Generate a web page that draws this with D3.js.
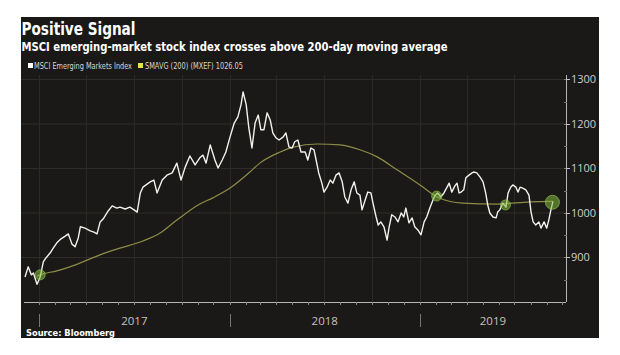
<!DOCTYPE html>
<html><head><meta charset="utf-8">
<script src="https://cdn.jsdelivr.net/npm/d3@7"></script>
<style>
html,body{margin:0;padding:0;background:#fff;}
svg{display:block;}
</style></head>
<body>
<script>
// ---- data ----
const indexDates = ["2016-12-05","2016-12-11","2016-12-17","2016-12-21","2016-12-28","2017-01-03","2017-01-09","2017-01-14","2017-01-22","2017-01-28",
"2017-02-04","2017-02-12","2017-02-20","2017-02-26","2017-03-05","2017-03-11","2017-03-17","2017-03-21","2017-03-30","2017-04-09",
"2017-04-16","2017-04-22","2017-04-28","2017-05-04","2017-05-13","2017-05-21","2017-05-30","2017-06-05","2017-06-15","2017-06-24",
"2017-07-02","2017-07-08","2017-07-14","2017-07-19","2017-08-02","2017-08-09","2017-08-15","2017-08-25","2017-09-03","2017-09-13",
"2017-09-22","2017-09-30","2017-10-08","2017-10-17","2017-10-27","2017-11-05","2017-11-11","2017-11-17","2017-11-25","2017-12-04",
"2017-12-10","2017-12-18","2017-12-25","2018-01-02","2018-01-10","2018-01-17","2018-01-23","2018-01-27","2018-02-02","2018-02-07",
"2018-02-13","2018-02-19","2018-02-25","2018-03-02","2018-03-08","2018-03-14","2018-03-20","2018-03-25","2018-03-31","2018-04-06",
"2018-04-14","2018-04-19","2018-04-25","2018-05-01","2018-05-06","2018-05-12","2018-05-18","2018-05-26","2018-05-31","2018-06-06",
"2018-06-12","2018-06-16","2018-06-21","2018-06-27","2018-07-01","2018-07-07","2018-07-13","2018-07-18","2018-07-24","2018-07-30",
"2018-08-05","2018-08-10","2018-08-16","2018-08-22","2018-08-28","2018-09-02","2018-09-08","2018-09-12","2018-09-18","2018-09-23",
"2018-09-29","2018-10-03","2018-10-09","2018-10-13","2018-10-18","2018-10-24","2018-10-30","2018-11-03","2018-11-08","2018-11-14",
"2018-11-20","2018-11-26","2018-12-01","2018-12-05","2018-12-11","2018-12-17","2018-12-22","2018-12-28","2019-01-03","2019-01-09",
"2019-01-14","2019-01-20","2019-01-26","2019-01-30","2019-02-04","2019-02-10","2019-02-16","2019-02-22","2019-02-26","2019-03-03",
"2019-03-09","2019-03-13","2019-03-17","2019-03-21","2019-03-26","2019-03-30","2019-04-05","2019-04-11","2019-04-14","2019-04-20",
"2019-04-26","2019-05-02","2019-05-07","2019-05-11","2019-05-15","2019-05-21","2019-05-27","2019-05-30","2019-06-03","2019-06-09",
"2019-06-15","2019-06-19","2019-06-24","2019-06-28","2019-07-04","2019-07-08","2019-07-12","2019-07-17","2019-07-23","2019-07-29",
"2019-08-02","2019-08-06","2019-08-11","2019-08-17","2019-08-21","2019-08-27","2019-09-01","2019-09-05","2019-09-09","2019-09-13"];
const indexValues = [856,879,861,865,840,856,890,899,910,921,
933,942,948,953,930,924,944,969,966,960,
957,953,980,987,1004,1016,1011,1013,1009,1013,
1007,1002,1045,1058,1070,1074,1045,1074,1085,1090,
1112,1074,1103,1128,1108,1124,1130,1112,1153,1119,
1101,1119,1137,1171,1202,1216,1243,1272,1243,1191,
1146,1202,1220,1187,1187,1225,1209,1180,1169,1164,
1171,1180,1148,1146,1160,1164,1137,1137,1119,1146,
1142,1119,1090,1067,1047,1058,1074,1067,1085,1090,
1070,1036,1022,1052,1070,1045,1040,1007,1029,1047,
1045,1022,991,973,980,969,939,969,996,991,
980,1000,991,1011,978,989,969,962,951,980,
991,1011,1029,1040,1045,1036,1045,1058,1067,1047,
1061,1067,1045,1047,1052,1079,1085,1090,1092,1090,
1081,1070,1045,1018,1000,991,989,1002,1007,1022,
1013,1045,1058,1063,1058,1047,1058,1056,1052,1040,
1002,980,973,980,966,980,966,984,1007,1026];

const maDates = ["2016-12-28","2017-01-03","2017-02-04","2017-03-01","2017-04-03","2017-04-28","2017-06-05","2017-07-19","2017-08-21","2017-09-22",
"2017-11-05","2017-11-30","2018-01-02","2018-02-09","2018-02-28","2018-04-08","2018-05-03","2018-06-18","2018-08-01","2018-09-08",
"2018-10-11","2018-11-18","2019-01-01","2019-02-03","2019-03-24","2019-05-29","2019-07-31","2019-09-13"];
const maValues = [858,861,870,879,894,906,921,937,955,984,
1020,1034,1056,1092,1112,1137,1148,1155,1153,1142,
1126,1097,1063,1036,1022,1020,1025,1026];

const crossDates = ["2017-01-03","2019-02-02","2019-06-14","2019-09-12"];
const crossValues = [861,1038,1018,1024];
const crossBig = [false,false,false,true];

const yTicks = [900,1000,1100,1200,1300];
const yearLabels = ["2017","2018","2019"];

const titleText = "Positive Signal";
const subtitleText = "MSCI emerging-market stock index crosses above 200-day moving average";
const legendLabels = ["MSCI Emerging Markets Index","SMAVG (200) (MXEF) 1026.05"];
const sourceText = "Source: Bloomberg";

// ---- drawing ----
const W = 620, H = 355;
const parse = d3.utcParse("%Y-%m-%d");
const svg = d3.select("body").append("svg").attr("width", W).attr("height", H);

const bg = "#1b1917";
svg.append("rect").attr("x",21).attr("y",17).attr("width",578).attr("height",321).attr("fill",bg);

const x = d3.scaleUtc().domain([parse("2016-12-03"), parse("2019-10-08")]).range([24, 566]);
const y = d3.scaleLinear().domain([800, 1310]).range([302, 75]);

// gridlines
const g = svg.append("g");
g.selectAll("line.hg").data(yTicks).join("line")
  .attr("x1",21).attr("x2",566).attr("y1",d=>y(d)).attr("y2",d=>y(d))
  .attr("stroke","#302d2a").attr("stroke-width",1);
const quarters = d3.utcMonth.every(3).range(parse("2017-01-01"), parse("2019-10-01"));
g.selectAll("line.vg").data(quarters).join("line")
  .attr("x1",d=>Math.round(x(d))+0.5).attr("x2",d=>Math.round(x(d))+0.5).attr("y1",75).attr("y2",302)
  .attr("stroke","#2c2926").attr("stroke-width",1);

// x axis line + month ticks
svg.append("line").attr("x1",24).attr("x2",566).attr("y1",302.5).attr("y2",302.5)
  .attr("stroke","#b8b6b2").attr("stroke-width",1);
const months = d3.utcMonth.range(parse("2016-12-04"), parse("2019-10-08"));
svg.selectAll("line.mt").data(months).join("line")
  .attr("x1",d=>Math.round(x(d))+0.5).attr("x2",d=>Math.round(x(d))+0.5).attr("y1",302).attr("y2",305)
  .attr("stroke","#8a8884").attr("stroke-width",1);
const years = yearLabels.map(s=>parse(s+"-01-01"));
svg.selectAll("line.yt").data(years).join("line")
  .attr("x1",d=>Math.round(x(d))+0.5).attr("x2",d=>Math.round(x(d))+0.5).attr("y1",314).attr("y2",327)
  .attr("stroke","#77756f").attr("stroke-width",1);
svg.selectAll("text.yl").data(yearLabels).join("text")
  .attr("x",d=>{const a=x(parse(d+"-01-01")); const b=Math.min(566, x(parse((+d+1)+"-01-01"))); return (a+b)/2;})
  .attr("y",325).attr("text-anchor","middle")
  .attr("font-family","'Open Sans', 'DejaVu Sans', sans-serif").attr("font-size",11.5)
  .attr("fill","#c4c2be").text(d=>d);

// y axis
svg.append("line").attr("x1",566.5).attr("x2",566.5).attr("y1",75).attr("y2",302)
  .attr("stroke","#b8b6b2").attr("stroke-width",1);
const minorY = d3.range(850, 1310, 50);
svg.selectAll("line.ymt").data(minorY).join("line")
  .attr("x1",564).attr("x2",567).attr("y1",d=>Math.round(y(d))+0.5).attr("y2",d=>Math.round(y(d))+0.5)
  .attr("stroke","#77756f");
svg.selectAll("line.yt2").data(yTicks).join("line")
  .attr("x1",566).attr("x2",570).attr("y1",d=>Math.round(y(d))+0.5).attr("y2",d=>Math.round(y(d))+0.5)
  .attr("stroke","#c4c2be");
svg.selectAll("text.ytl").data(yTicks).join("text")
  .attr("x",571).attr("y",d=>y(d)+4)
  .attr("font-family","'Open Sans', 'DejaVu Sans', sans-serif").attr("font-size",11)
  .attr("fill","#d0cec9").text(d=>d);

// moving average line
const maData = maDates.map((d,i)=>({d:parse(d), v:maValues[i]}));
svg.append("path").datum(maData)
  .attr("d", d3.line().x(p=>x(p.d)).y(p=>y(p.v)).curve(d3.curveMonotoneX))
  .attr("fill","none").attr("stroke","#8e8c46").attr("stroke-width",1.2);

// index line
const idxData = indexDates.map((d,i)=>({d:parse(d), v:indexValues[i]}));
svg.append("path").datum(idxData)
  .attr("d", d3.line().x(p=>x(p.d)).y(p=>y(p.v)))
  .attr("fill","none").attr("stroke","#f2f1ee").attr("stroke-width",1.4).attr("stroke-linejoin","round");

// crossing circles
svg.selectAll("circle.cr").data(crossDates).join("circle")
  .attr("cx",(d,i)=>x(parse(d))).attr("cy",(d,i)=>y(crossValues[i]))
  .attr("r",(d,i)=>crossBig[i]?7:5)
  .attr("fill","rgba(130,185,60,0.55)").attr("stroke","rgba(150,200,80,0.8)").attr("stroke-width",0.8);

// title and subtitle
svg.append("text").attr("x",21.5).attr("y",35)
  .attr("font-family","'DejaVu Sans', sans-serif").attr("font-weight","bold").attr("font-size",17.5)
  .attr("fill","#ffffff").attr("textLength",114).attr("lengthAdjust","spacingAndGlyphs").text(titleText);
svg.append("text").attr("x",21.5).attr("y",50.5)
  .attr("font-family","'DejaVu Sans', sans-serif").attr("font-weight","bold").attr("font-size",13)
  .attr("fill","#ffffff").attr("textLength",426).attr("lengthAdjust","spacingAndGlyphs").text(subtitleText);

// legend
svg.append("rect").attr("x",28).attr("y",63).attr("width",5).attr("height",5).attr("fill","#ffffff");
svg.append("text").attr("x",34).attr("y",69)
  .attr("font-family","'DejaVu Sans Condensed', 'DejaVu Sans', sans-serif").attr("font-size",8.5)
  .attr("fill","#d8d6d2").attr("textLength",98).attr("lengthAdjust","spacingAndGlyphs").text(legendLabels[0]);
svg.append("rect").attr("x",138).attr("y",63).attr("width",5).attr("height",5).attr("fill","#e5e34a");
svg.append("text").attr("x",145).attr("y",69)
  .attr("font-family","'DejaVu Sans Condensed', 'DejaVu Sans', sans-serif").attr("font-size",8.5)
  .attr("fill","#d8d6d2").attr("textLength",98).attr("lengthAdjust","spacingAndGlyphs").text(legendLabels[1]);

// source
svg.append("text").attr("x",26).attr("y",336)
  .attr("font-family","'DejaVu Sans', sans-serif").attr("font-weight","bold").attr("font-size",9.5)
  .attr("fill","#ffffff").attr("textLength",89).attr("lengthAdjust","spacingAndGlyphs").text(sourceText);
</script>
</body></html>
